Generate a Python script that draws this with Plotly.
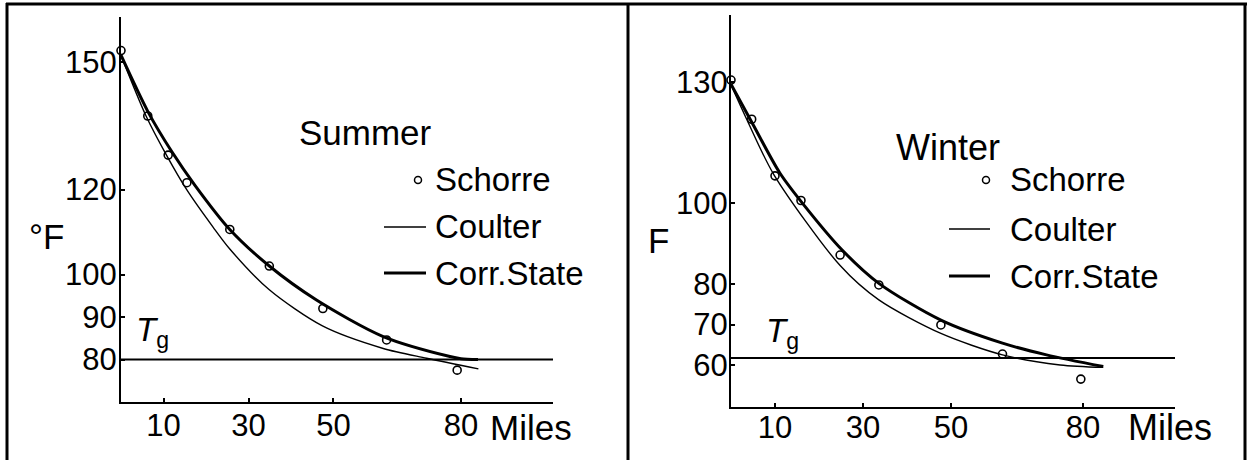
import plotly.graph_objects as go

W, H = 1252, 460

# ---------------- data ----------------
# Summer panel
summer_schorre_x = [0, 6.3, 11.1, 15.5, 25.6, 34.9, 47.5, 62.5, 79.1]
summer_schorre_y = [152.7, 137.3, 128.1, 121.6, 110.6, 102.0, 92.0, 84.6, 77.5]
summer_coulter_x = [0, 5.9, 10.7, 15.5, 21.7, 25.6, 34.9, 47.4, 61.7, 71.9, 84.1]
summer_coulter_y = [151.6, 137.3, 128.1, 119.9, 111.1, 106.0, 96.4, 87.9, 82.6, 80.3, 77.8]
summer_corr_x = [0, 6.3, 11.9, 17.4, 25.6, 34.9, 46.0, 61.7, 77.4, 80.0, 84.0]
summer_corr_y = [151.6, 138.4, 129.0, 121.0, 110.6, 102.0, 94.0, 85.4, 80.7, 80.2, 80.0]
summer_tg = 80
summer_yticks = [80, 90, 100, 120, 150]

# Winter panel
winter_schorre_x = [0, 4.7, 10.0, 15.9, 24.8, 33.6, 47.7, 61.7, 79.5]
winter_schorre_y = [130.5, 120.8, 106.8, 100.7, 87.2, 79.8, 69.9, 62.7, 56.5]
winter_coulter_x = [0, 3.9, 9.8, 24.8, 33.6, 47.7, 61.7, 74.8, 84.6]
winter_coulter_y = [129.3, 120.0, 107.0, 84.6, 76.1, 67.8, 62.5, 60.0, 59.4]
winter_corr_x = [0, 5.0, 11.1, 16.4, 25.2, 33.6, 47.7, 61.7, 71.7, 84.6]
winter_corr_y = [129.5, 119.5, 107.5, 99.8, 88.5, 80.2, 71.1, 65.4, 62.5, 59.6]
winter_tg = 61.7
winter_yticks = [60, 70, 80, 100, 130]

x_ticks = [10, 30, 50, 80]

FONT = "Liberation Sans, Arial, sans-serif"


def px(p):
    return p / W


def py(p):
    return 1 - p / H


fig = go.Figure()


def add_panel(sx, sy, cx, cy, rx, ry, xa, ya):
    fig.add_trace(go.Scatter(x=cx, y=cy, mode="lines", xaxis=xa, yaxis=ya,
                             line=dict(color="black", width=1.4, shape="spline", smoothing=0.8),
                             name="Coulter", showlegend=False))
    fig.add_trace(go.Scatter(x=rx, y=ry, mode="lines", xaxis=xa, yaxis=ya,
                             line=dict(color="black", width=3, shape="spline", smoothing=0.8),
                             name="Corr.State", showlegend=False))
    fig.add_trace(go.Scatter(x=sx, y=sy, mode="markers", xaxis=xa, yaxis=ya,
                             marker=dict(symbol="circle-open", size=8, color="black",
                                         line=dict(width=1.6, color="black")),
                             name="Schorre", showlegend=False, cliponaxis=False))


add_panel(summer_schorre_x, summer_schorre_y, summer_coulter_x, summer_coulter_y,
          summer_corr_x, summer_corr_y, "x", "y")
add_panel(winter_schorre_x, winter_schorre_y, winter_coulter_x, winter_coulter_y,
          winter_corr_x, winter_corr_y, "x2", "y2")

axis_common = dict(showgrid=False, zeroline=False, showline=True, linecolor="black",
                   linewidth=2, ticks="inside", ticklen=4, tickwidth=2, tickcolor="black",
                   tickfont=dict(family=FONT, size=31, color="black"), fixedrange=True)

fig.update_layout(
    width=W, height=H,
    margin=dict(l=0, r=0, t=0, b=0),
    paper_bgcolor="white", plot_bgcolor="white",
    showlegend=False,
    xaxis=dict(axis_common, domain=[px(121), px(553)], range=[0, 101.65],
               tickvals=x_ticks, anchor="y", ticklabelstandoff=-5),
    yaxis=dict(axis_common, domain=[py(402), py(17)], range=[70.0, 160.6],
               tickvals=summer_yticks, anchor="x", ticklabelstandoff=-4),
    xaxis2=dict(axis_common, domain=[px(731), px(1175)], range=[0, 100.9],
                tickvals=x_ticks, anchor="y2", ticklabelstandoff=-8),
    yaxis2=dict(axis_common, domain=[py(407), py(15)], range=[49.6, 146.6],
                tickvals=winter_yticks, anchor="x2", ticklabelstandoff=-5),
)

shapes = []
# Tg lines
shapes.append(dict(type="line", xref="x domain", yref="y", x0=0, x1=1, y0=summer_tg, y1=summer_tg,
                   line=dict(color="black", width=2)))
shapes.append(dict(type="line", xref="x2 domain", yref="y2", x0=0, x1=1, y0=winter_tg, y1=winter_tg,
                   line=dict(color="black", width=2)))

# frame (table borders)
border = dict(color="black", width=3)
shapes.append(dict(type="line", xref="paper", yref="paper", x0=px(6), x1=px(1247), y0=py(4), y1=py(4), line=border))
shapes.append(dict(type="line", xref="paper", yref="paper", x0=px(7), x1=px(7), y0=py(3), y1=py(461), line=border))
shapes.append(dict(type="line", xref="paper", yref="paper", x0=px(628), x1=px(628), y0=py(3), y1=py(461), line=border))
shapes.append(dict(type="line", xref="paper", yref="paper", x0=px(1245), x1=px(1245), y0=py(3), y1=py(461), line=border))


# legend samples
def legend_samples(mx, my, lx0, lx1, y_coul, y_corr):
    r = 3.5
    shapes.append(dict(type="circle", xref="paper", yref="paper",
                       x0=px(mx - r), x1=px(mx + r), y0=py(my + r), y1=py(my - r),
                       line=dict(color="black", width=1.5)))
    shapes.append(dict(type="line", xref="paper", yref="paper", x0=px(lx0), x1=px(lx1),
                       y0=py(y_coul), y1=py(y_coul), line=dict(color="black", width=1.4)))
    shapes.append(dict(type="line", xref="paper", yref="paper", x0=px(lx0), x1=px(lx1),
                       y0=py(y_corr), y1=py(y_corr), line=dict(color="black", width=3)))


legend_samples(418, 180, 384, 426, 227, 273)
legend_samples(986, 180, 949, 990, 229, 276)
fig.update_layout(shapes=shapes)

annotations = []


def text(t, x, y, size, xanchor="left"):
    annotations.append(dict(text=t, x=px(x), y=py(y), xref="paper", yref="paper",
                            xanchor=xanchor, yanchor="middle", showarrow=False,
                            font=dict(family=FONT, size=size, color="black")))


# left panel texts
text("Summer", 297, 132, 35)
text("Schorre", 433, 180, 33)
text("Coulter", 433, 227, 33)
text("Corr.State", 433, 273, 33)
text("Miles", 488, 427, 35)
text("°F", 46, 236, 35, xanchor="center")
text("<i>T</i><sub>g</sub>", 134, 332, 33)

# right panel texts
text("Winter", 894, 148, 36)
text("Schorre", 1008, 180, 33)
text("Coulter", 1008, 229, 33)
text("Corr.State", 1008, 276, 33)
text("Miles", 1126, 427, 36)
text("F", 658, 240, 35, xanchor="center")
text("<i>T</i><sub>g</sub>", 764, 333, 33)

fig.update_layout(annotations=annotations)

fig.write_html("out.html", config={"displayModeBar": False},
               post_script="document.body.style.margin='0px';")
